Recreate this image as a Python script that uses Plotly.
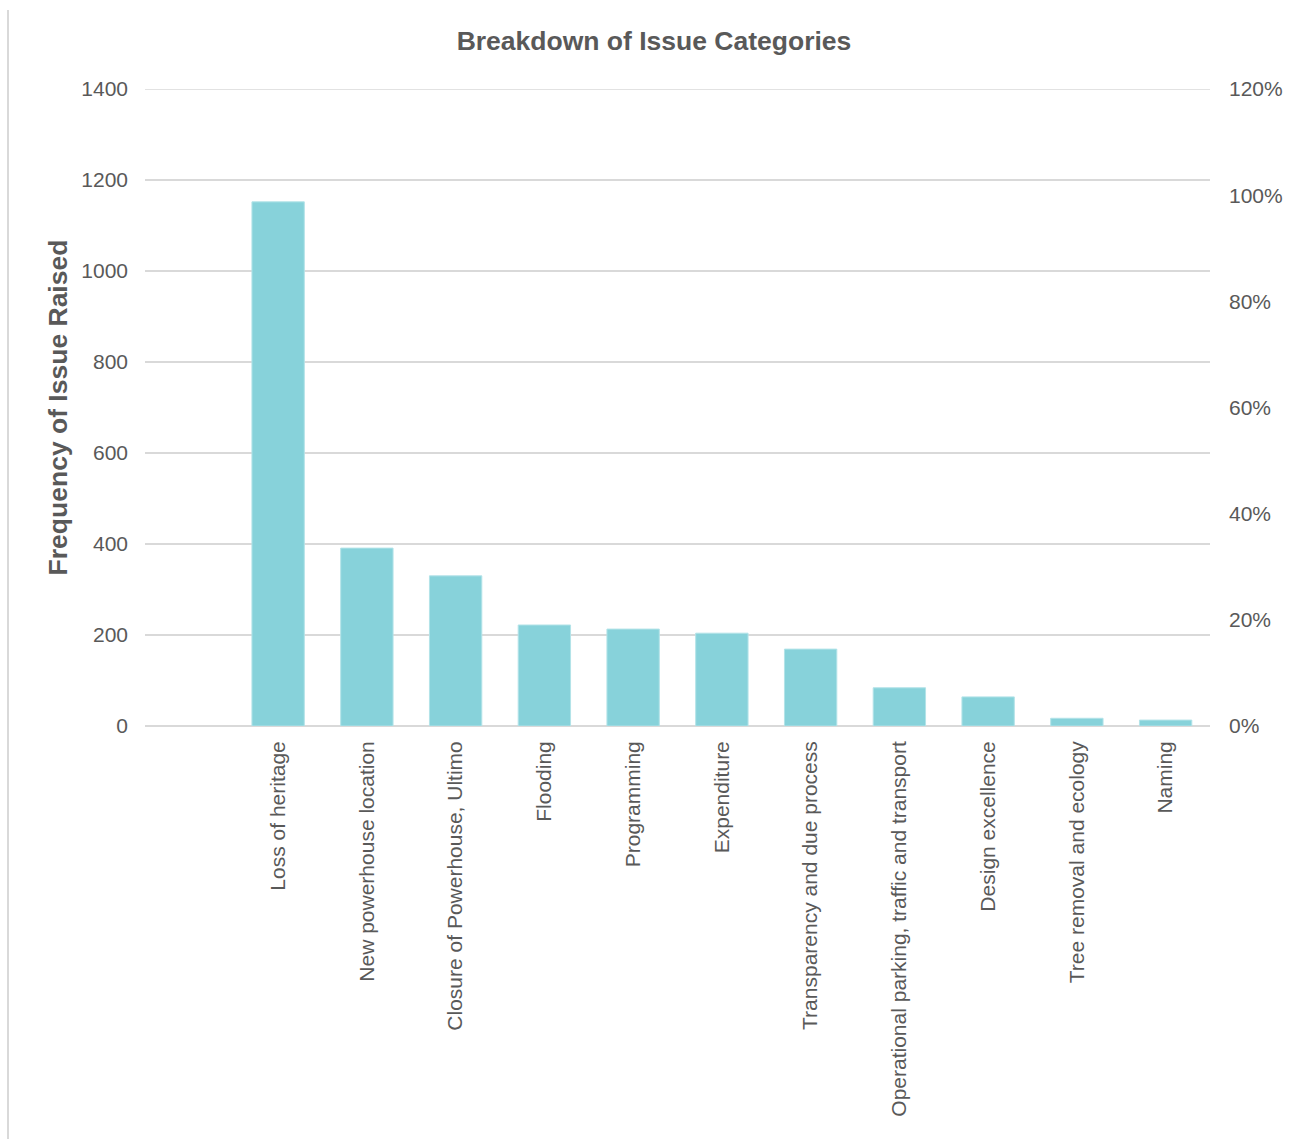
import plotly.graph_objects as go

categories = [
    "Loss of heritage",
    "New powerhouse location",
    "Closure of Powerhouse, Ultimo",
    "Flooding",
    "Programming",
    "Expenditure",
    "Transparency and due process",
    "Operational parking, traffic and transport",
    "Design excellence",
    "Tree removal and ecology",
    "Naming",
]
frequency = [1152, 391, 330, 222, 213, 204, 169, 84, 64, 17, 13]

left_ticks = [0, 200, 400, 600, 800, 1000, 1200, 1400]
right_ticks = [0, 0.2, 0.4, 0.6, 0.8, 1.0, 1.2]

GRAY = "#595959"
GRID = "#D9D9D9"
FONT = "Liberation Sans, Arial, sans-serif"

fig = go.Figure()
fig.add_trace(go.Bar(
    x=categories, y=frequency,
    marker=dict(color="#87D2DA", line=dict(color="#B3E3E8", width=1)),
    showlegend=False,
))
fig.add_trace(go.Scatter(
    x=categories, y=[None] * len(categories), yaxis="y2",
    mode="lines", showlegend=False, hoverinfo="skip",
))

fig.update_layout(
    width=1293, height=1139,
    margin=dict(l=145, r=83, t=89, b=413, autoexpand=False),
    paper_bgcolor="white", plot_bgcolor="white",
    font=dict(family=FONT, color=GRAY, size=21),
    bargap=0.41,
    title=dict(text="<b>Breakdown of Issue Categories</b>", x=654 / 1293, xanchor="center",
               y=1 - 41 / 1139, yanchor="middle", font=dict(size=26.5, color=GRAY, family=FONT)),
    xaxis=dict(type="category", range=[-1.5, 10.5], tickangle=-90, showgrid=False,
               showline=False, ticks="", ticklabelstandoff=10, automargin=False,
               tickfont=dict(size=21, color=GRAY)),
    yaxis=dict(range=[0, 1400], tickvals=left_ticks, showgrid=True, gridcolor=GRID,
               gridwidth=1.5, zeroline=True, zerolinecolor=GRID, zerolinewidth=2,
               showline=False, ticks="", ticklabelstandoff=16, automargin=False,
               tickfont=dict(size=21, color=GRAY),
               title=dict(text="<b>Frequency of Issue Raised</b>", standoff=6,
                          font=dict(size=26.5, color=GRAY))),
    yaxis2=dict(range=[0, 1.2], tickvals=right_ticks, tickformat=".0%",
                overlaying="y", side="right", showgrid=False, zeroline=False,
                showline=False, ticks="", ticklabelstandoff=18, automargin=False,
                tickfont=dict(size=21, color=GRAY)),
)

# top gridline at the range edge (plotly clips gridlines at the edge)
fig.add_shape(type="line", xref="paper", yref="y", x0=0, x1=1,
              y0=left_ticks[-1], y1=left_ticks[-1], line=dict(color=GRID, width=1.5),
              layer="below")

# chart container border on the left
fig.add_shape(type="line", xref="paper", yref="paper",
              x0=(8 - 145) / 1065, x1=(8 - 145) / 1065,
              y0=(726 - 10) / 637, y1=(726 - 1139) / 637,
              line=dict(color=GRID, width=2))

fig.write_html("out.html")
